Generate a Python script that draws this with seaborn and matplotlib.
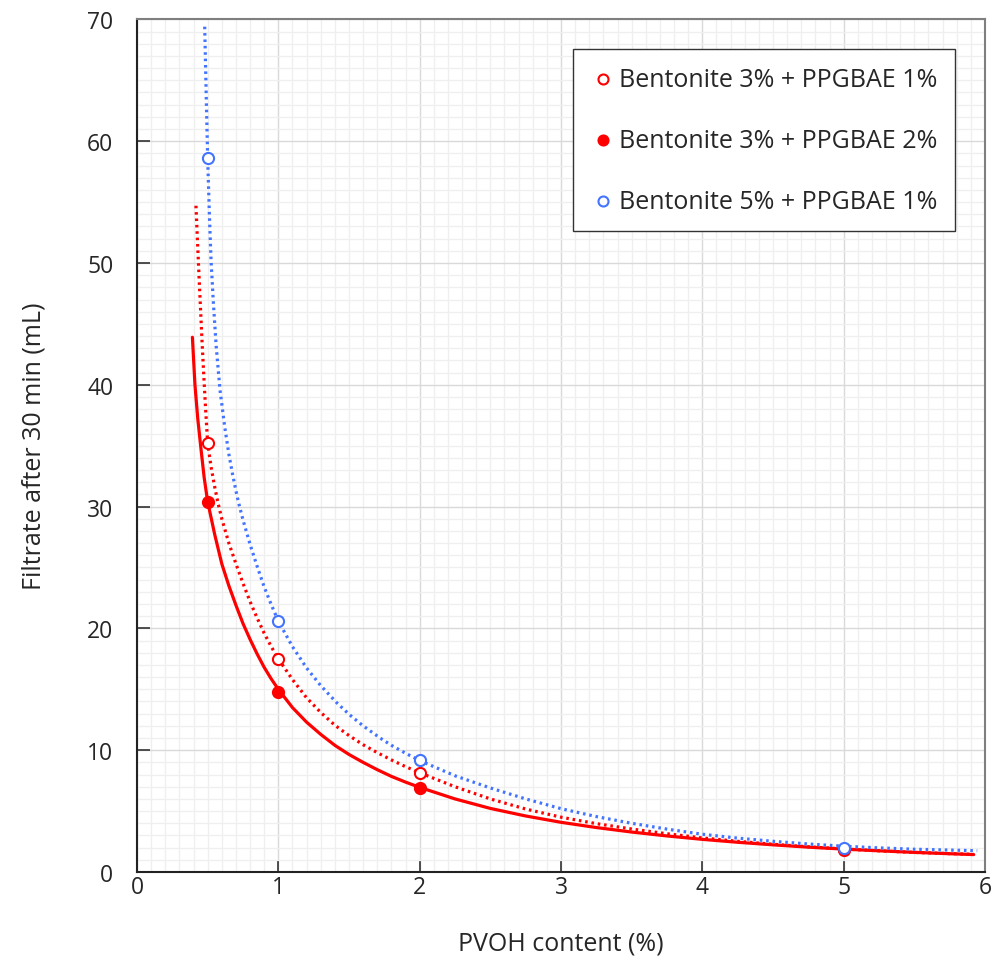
import numpy as np
import pandas as pd
import matplotlib
matplotlib.use("Agg")
import matplotlib.pyplot as plt
import seaborn as sns
from matplotlib.ticker import MultipleLocator

sns.set_style("white")
plt.rcParams['font.family'] = ['Open Sans', 'DejaVu Sans']

# Measured data points
pvoh = [0.5, 1, 2, 5]
s1_label = "Bentonite 3% + PPGBAE 1%"
s2_label = "Bentonite 3% + PPGBAE 2%"
s3_label = "Bentonite 5% + PPGBAE 1%"
s1_vals = [35.2, 17.5, 8.1, 1.9]
s2_vals = [30.4, 14.8, 6.9, 1.8]
s3_vals = [58.6, 20.6, 9.2, 2.0]

# Trend curves
s1_fit_x = [0.417, 0.44, 0.46, 0.474, 0.487, 0.5, 0.525, 0.55, 0.575, 0.6, 0.65, 0.7,
            0.75, 0.8, 0.85, 0.9, 0.95, 1.0, 1.1, 1.2, 1.3, 1.4, 1.5, 1.6, 1.7, 1.8,
            1.9, 2.0, 2.25, 2.5, 2.75, 3.0, 3.25, 3.5, 3.75, 4.0, 4.25, 4.5, 4.75,
            5.0, 5.25, 5.5, 5.75, 5.92]
s1_fit_y = [54.7, 48.6, 43.6, 40.4, 37.7, 35.2, 33.2, 31.6, 30.2, 29.0, 27.0, 25.3,
            23.7, 22.2, 20.85, 19.6, 18.5, 17.5, 15.8, 14.3, 13.1, 12.05, 11.2, 10.45,
            9.8, 9.2, 8.65, 8.15, 7.0, 6.0, 5.17, 4.5, 3.97, 3.53, 3.14, 2.8, 2.52,
            2.28, 2.07, 1.89, 1.74, 1.61, 1.51, 1.45]
s2_fit_x = [0.392, 0.41, 0.43, 0.453, 0.475, 0.5, 0.55, 0.6, 0.65, 0.7, 0.75, 0.8,
            0.85, 0.9, 0.95, 1.0, 1.1, 1.2, 1.3, 1.4, 1.5, 1.6, 1.7, 1.8, 1.9, 2.0,
            2.25, 2.5, 2.75, 3.0, 3.25, 3.5, 3.75, 4.0, 4.25, 4.5, 4.75, 5.0, 5.25,
            5.5, 5.75, 5.92]
s2_fit_y = [43.9, 40.0, 37.2, 34.7, 32.4, 30.4, 27.7, 25.3, 23.5, 21.9, 20.4, 19.1,
            17.9, 16.8, 15.85, 15.0, 13.5, 12.3, 11.3, 10.4, 9.65, 9.0, 8.4, 7.85, 7.38,
            6.95, 6.0, 5.22, 4.6, 4.08, 3.65, 3.28, 2.96, 2.68, 2.44, 2.23, 2.04, 1.88,
            1.74, 1.61, 1.5, 1.43]
s3_fit_x = [0.479, 0.49, 0.5, 0.512, 0.524, 0.54, 0.56, 0.587, 0.62, 0.65, 0.677, 0.7,
            0.717, 0.75, 0.8, 0.847, 0.9, 0.95, 1.0, 1.1, 1.2, 1.3, 1.413, 1.5, 1.6,
            1.72, 1.8, 1.9, 2.0, 2.25, 2.5, 2.75, 3.0, 3.25, 3.5, 3.75, 4.0, 4.25,
            4.5, 4.75, 5.0, 5.25, 5.5, 5.75, 5.945]
s3_fit_y = [69.4, 63.6, 58.6, 54.0, 50.2, 46.8, 43.2, 39.6, 36.6, 34.3, 32.6, 31.3,
            30.4, 28.9, 26.9, 25.2, 23.4, 21.95, 20.6, 18.5, 16.75, 15.3, 13.9, 12.95,
            12.0, 11.0, 10.4, 9.75, 9.15, 7.9, 6.9, 6.0, 5.2, 4.55, 4.0, 3.52, 3.1,
            2.78, 2.52, 2.3, 2.12, 1.98, 1.87, 1.8, 1.75]

red = "#FF0000"
blue = "#4374FF"

fig = plt.figure(figsize=(10, 9.7), dpi=100)
ax = fig.add_axes([0.137, 0.1, 0.848, 0.879])

ax.set_xlim(0, 6)
ax.set_ylim(0, 70)
ax.xaxis.set_major_locator(MultipleLocator(1))
ax.xaxis.set_minor_locator(MultipleLocator(0.1))
ax.yaxis.set_major_locator(MultipleLocator(10))
ax.yaxis.set_minor_locator(MultipleLocator(1))
ax.grid(which='major', color='#D9D9D9', lw=1.0)
ax.grid(which='minor', color='#EFEFEF', lw=0.9)
ax.set_axisbelow(True)

f1 = pd.DataFrame({"x": s1_fit_x, "y": s1_fit_y})
f2 = pd.DataFrame({"x": s2_fit_x, "y": s2_fit_y})
f3 = pd.DataFrame({"x": s3_fit_x, "y": s3_fit_y})

dot = (0, (0.8, 1.2))
sns.lineplot(data=f2, x="x", y="y", ax=ax, color=red, lw=2.3, zorder=3,
             sort=False, solid_joinstyle='round')
sns.lineplot(data=f1, x="x", y="y", ax=ax, color=red, lw=2.3, linestyle=dot, zorder=3,
             sort=False)
sns.lineplot(data=f3, x="x", y="y", ax=ax, color=blue, lw=2.3, linestyle=dot, zorder=3,
             sort=False)

sns.scatterplot(x=pvoh, y=s1_vals, ax=ax, marker='o', s=64, facecolor='white',
                edgecolor=red, linewidth=1.5, zorder=4, label=s1_label)
sns.scatterplot(x=pvoh, y=s2_vals, ax=ax, marker='o', s=64, color=red,
                edgecolor=red, linewidth=1.5, zorder=4, label=s2_label)
sns.scatterplot(x=pvoh, y=s3_vals, ax=ax, marker='o', s=64, facecolor='white',
                edgecolor=blue, linewidth=1.5, zorder=4, label=s3_label)

for sp in ['left', 'bottom']:
    ax.spines[sp].set_color('#222222')
    ax.spines[sp].set_linewidth(1.5)
for sp in ['top', 'right']:
    ax.spines[sp].set_color('#7F7F7F')
    ax.spines[sp].set_linewidth(1.5)

ax.tick_params(axis='both', which='major', direction='in', length=9, width=1.2,
               labelsize=16.5, color='#333333', left=True, bottom=True)
ax.tick_params(axis='y', pad=17)
ax.tick_params(axis='x', pad=2)
ax.tick_params(which='minor', length=0)

ax.set_xlabel("PVOH content (%)", fontsize=18, labelpad=23)
ax.set_ylabel("Filtrate after 30 min (mL)", fontsize=18, labelpad=29)

leg = ax.legend(loc='upper right', bbox_to_anchor=(0.9646, 0.9648), fontsize=18,
                frameon=True, fancybox=False, edgecolor='#333333', framealpha=1,
                handletextpad=0.14, labelspacing=1.44, borderpad=0.7,
                borderaxespad=0.0, handlelength=1.0, markerscale=0.9)
leg.get_frame().set_linewidth(1.0)

fig.savefig("out.png", dpi=100)
